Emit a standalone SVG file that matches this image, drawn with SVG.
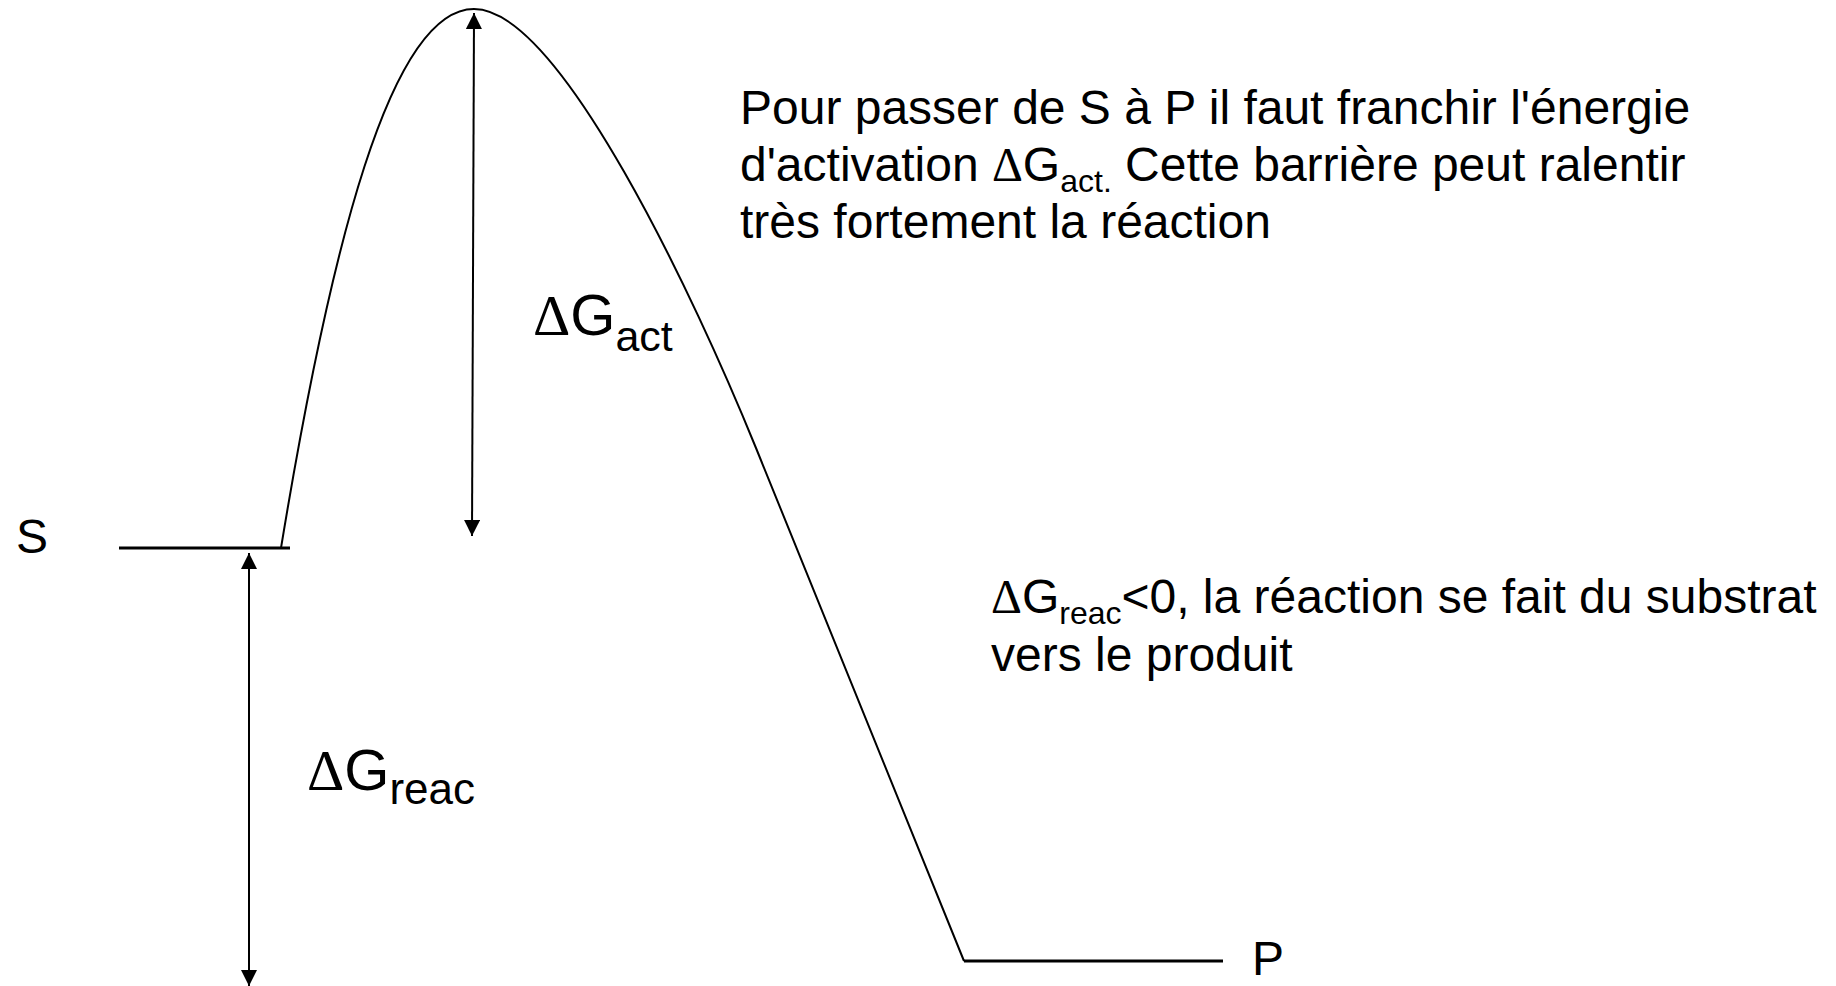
<svg xmlns="http://www.w3.org/2000/svg" width="1836" height="986" viewBox="0 0 1836 986">
<style>
text{font-family:"Liberation Sans",Arial,sans-serif;fill:#000}
.body{font-size:48px}
.big{font-size:58px}
.d{font-family:"Liberation Serif","Times New Roman",serif}
.curve{fill:none;stroke:#000;stroke-width:2}
.level{fill:none;stroke:#000;stroke-width:3}
.arr{fill:none;stroke:#000;stroke-width:2;marker-start:url(#ah);marker-end:url(#ah)}
</style>
<defs>
<marker id="ah" markerUnits="userSpaceOnUse" markerWidth="16" markerHeight="16" refX="16" refY="8" orient="auto-start-reverse" viewBox="0 0 16 16">
<path d="M0,0 L16,8 L0,16 z" fill="#000"/>
</marker>
</defs>
<rect width="1836" height="986" fill="#fff"/>
<g id="profile">
<path class="curve" d="M281,548 C330,250 390,9 474,9 C560,9 695,298 756,448 L964,961"/>
</g>
<g id="S">
<line class="level" x1="119" y1="548" x2="290" y2="548"/>
<text class="body" x="16" y="553">S</text>
</g>
<g id="P">
<line class="level" x1="964" y1="961" x2="1223" y2="961"/>
<text class="body" x="1252" y="975">P</text>
</g>
<g id="connectors">
<line class="arr" x1="474" y1="13" x2="472" y2="536"/>
<line class="arr" x1="249" y1="553" x2="249" y2="986"/>
</g>
<g id="label-act">
<text class="big" x="533" y="335"><tspan class="d">Δ</tspan>G<tspan dy="16" style="font-size:43px">act</tspan></text>
</g>
<g id="label-reac">
<text class="big" x="307" y="790"><tspan class="d">Δ</tspan>G<tspan dy="14" style="font-size:44px">reac</tspan></text>
</g>
<g id="text-activation">
<text class="body" x="740" y="124">Pour passer de S à P il faut franchir l'énergie</text>
<text class="body" x="740" y="181">d'activation <tspan class="d">Δ</tspan>G<tspan dy="11" style="font-size:32px">act.</tspan><tspan dy="-11"> Cette barrière peut ralentir</tspan></text>
<text class="body" x="740" y="238">très fortement la réaction</text>
</g>
<g id="text-reac">
<text class="body" x="991" y="613"><tspan class="d">Δ</tspan>G<tspan dy="11" style="font-size:32px">reac</tspan><tspan dy="-11">&lt;0, la réaction se fait du substrat</tspan></text>
<text class="body" x="991" y="671">vers le produit</text>
</g>
</svg>
